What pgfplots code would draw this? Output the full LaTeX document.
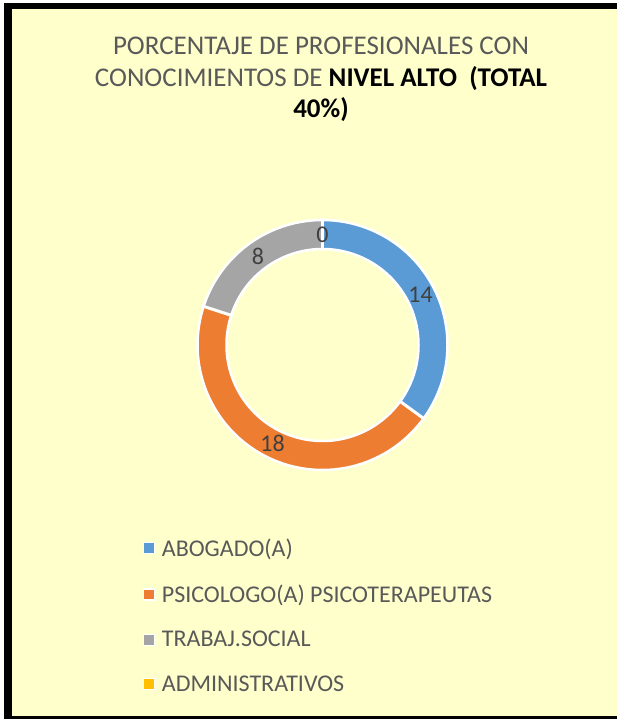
\documentclass[border=0pt]{standalone}
\usepackage{pgfplots}
\pgfplotsset{compat=1.18}
\usepackage{pgfplotstable}
\usepgfplotslibrary{polar}
\usepackage{fontspec}
\setmainfont{Carlito}
\definecolor{bgY}{HTML}{FFFFCC}
\definecolor{cBlue}{HTML}{5B9BD5}
\definecolor{cOrange}{HTML}{ED7D31}
\definecolor{cGray}{HTML}{A5A5A5}
\definecolor{cGold}{HTML}{FFC000}
\definecolor{txt}{HTML}{595959}
\definecolor{lbl}{HTML}{404040}

\pgfplotstableread{
idx value
0 14
1 18
2 8
3 0
}\donutdata

\pgfplotstablegetelem{0}{value}\of\donutdata \let\vA\pgfplotsretval
\pgfplotstablegetelem{1}{value}\of\donutdata \let\vB\pgfplotsretval
\pgfplotstablegetelem{2}{value}\of\donutdata \let\vC\pgfplotsretval
\pgfplotstablegetelem{3}{value}\of\donutdata \let\vD\pgfplotsretval
\pgfmathsetmacro\tot{\vA+\vB+\vC+\vD}
\pgfmathsetmacro\aZero{90}
\pgfmathsetmacro\aOne{\aZero-360*\vA/\tot}
\pgfmathsetmacro\aTwo{\aOne-360*\vB/\tot}
\pgfmathsetmacro\aThree{\aTwo-360*\vC/\tot}
\pgfmathsetmacro\aFour{\aThree-360*\vD/\tot}
\pgfmathsetmacro\mA{(\aZero+\aOne)/2}
\pgfmathsetmacro\mB{(\aOne+\aTwo)/2}
\pgfmathsetmacro\mC{(\aTwo+\aThree)/2}
\pgfmathsetmacro\mD{(\aThree+\aFour)/2}

\begin{document}
\begin{tikzpicture}
\useasboundingbox (0,0) rectangle (617pt,719pt);
\fill[white] (0,0) rectangle (620pt,719pt);
\fill[black] (4pt,0pt) rectangle (620pt,716pt);
\fill[bgY] (11.5pt,3pt) rectangle (622pt,710pt);

% title
\node[anchor=base, font=\fontsize{27}{32}\selectfont, text=txt, inner sep=0pt] at (321pt,664pt) {PORCENTAJE DE PROFESIONALES CON};
\node[anchor=base, font=\fontsize{27}{32}\selectfont, text=txt, inner sep=0pt] at (321pt,632.3pt) {CONOCIMIENTOS DE \textcolor{black}{\bfseries NIVEL ALTO \ (TOTAL}};
\node[anchor=base, font=\fontsize{27}{32}\selectfont\bfseries, text=black, inner sep=0pt] at (321pt,601pt) {40\%)};

\begin{polaraxis}[
  at={(322.5pt,374pt)}, anchor=center,
  width=250pt, height=250pt, scale only axis,
  xmin=0, xmax=360, ymin=0, ymax=125,
  hide axis, clip=false,
  legend image code/.code={\path[fill, draw=white, line width=1.2pt] (0pt,-5.5pt) rectangle (11pt,5.5pt);},
  legend style={at={(axis description cs:-0.22,-0.265)}, anchor=north west,
    draw=none, fill=none, font=\fontsize{24}{26}\selectfont, text=txt,
    row sep=23.4pt, column sep=5pt, inner sep=0pt, cells={anchor=west}},
]
\addplot[color=cBlue, line width=29pt, domain=\aOne:\aZero, samples=120] {110.5};
\addlegendentry{ABOGADO(A)}
\addplot[color=cOrange, line width=29pt, domain=\aTwo:\aOne, samples=160] {110.5};
\addlegendentry{PSICOLOGO(A) PSICOTERAPEUTAS}
\addplot[color=cGray, line width=29pt, domain=\aThree:\aTwo, samples=80] {110.5};
\addlegendentry{TRABAJ.SOCIAL}
\addlegendimage{color=cGold}
\addlegendentry{ADMINISTRATIVOS}
% white outlines
\addplot[white, line width=2.5pt, domain=0:360, samples=240, forget plot] {125};
\addplot[white, line width=2.5pt, domain=0:360, samples=240, forget plot] {96};
\addplot[white, line width=3pt, forget plot] coordinates {(\aZero,94) (\aZero,127)};
\addplot[white, line width=3pt, forget plot] coordinates {(\aOne,94) (\aOne,127)};
\addplot[white, line width=3pt, forget plot] coordinates {(\aTwo,94) (\aTwo,127)};
\addplot[white, line width=3pt, forget plot] coordinates {(\aThree,94) (\aThree,127)};
% data labels
\node[text=lbl, font=\fontsize{24}{26}\selectfont] at (axis cs:\mA,110) {\vA};
\node[text=lbl, font=\fontsize{24}{26}\selectfont] at (axis cs:\mB,110) {\vB};
\node[text=lbl, font=\fontsize{24}{26}\selectfont] at (axis cs:\mC,110) {\vC};
\node[text=lbl, font=\fontsize{24}{26}\selectfont] at (axis cs:\mD,110) {\vD};
\end{polaraxis}
\end{tikzpicture}
\end{document}
